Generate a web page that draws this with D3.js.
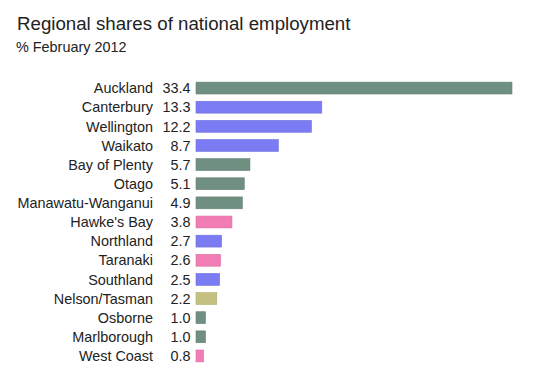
<!DOCTYPE html>
<html>
<head>
<meta charset="utf-8">
<script src="https://cdn.jsdelivr.net/npm/d3@7"></script>
<style>
  body { margin: 0; background: #fff; }
  text { font-family: "Liberation Sans", Arial, sans-serif; fill: #222; }
</style>
</head>
<body>
<div id="chart"></div>
<script>
// data
var regions = ["Auckland", "Canterbury", "Wellington", "Waikato", "Bay of Plenty", "Otago",
  "Manawatu-Wanganui", "Hawke's Bay", "Northland", "Taranaki", "Southland", "Nelson/Tasman",
  "Osborne", "Marlborough", "West Coast"];
var shares = [33.4, 13.3, 12.2, 8.7, 5.7, 5.1, 4.9, 3.8, 2.7, 2.6, 2.5, 2.2, 1.0, 1.0, 0.8];
var groups = ["a", "b", "b", "b", "a", "a", "a", "c", "b", "c", "b", "d", "a", "a", "c"];

var width = 540, height = 392;
var svg = d3.select("#chart").append("svg")
  .attr("width", width)
  .attr("height", height);

svg.append("text")
  .attr("x", 17).attr("y", 30)
  .style("font-size", "18.7px")
  .text("Regional shares of national employment");

svg.append("text")
  .attr("x", 16).attr("y", 52)
  .style("font-size", "14.4px")
  .text("% February 2012");

var x = d3.scaleLinear().domain([0, 33.4]).range([196, 512]);
var y = d3.scaleBand().domain(regions).range([78.5, 365.5]).paddingInner(0.38).paddingOuter(0.19);

var color = d3.scaleOrdinal()
  .domain(["a", "b", "c", "d"])
  .range(["#6f9080", "#7b7bf4", "#f27db5", "#c4c080"]);

var rows = svg.selectAll("g.row")
  .data(regions.map(function (r, i) { return { region: r, value: shares[i], group: groups[i] }; }))
  .enter().append("g")
  .attr("class", "row");

rows.append("rect")
  .attr("x", x(0))
  .attr("y", function (d) { return y(d.region); })
  .attr("width", function (d) { return x(d.value) - x(0); })
  .attr("height", y.bandwidth())
  .attr("fill", function (d) { return color(d.group); })
  .attr("stroke", function (d) { return d3.color(color(d.group)).darker(0.3); })
  .attr("stroke-width", 0.6);

rows.append("text")
  .attr("x", 153)
  .attr("y", function (d) { return y(d.region) + y.bandwidth() / 2; })
  .attr("dy", "0.36em")
  .attr("text-anchor", "end")
  .style("font-size", "14.4px")
  .text(function (d) { return d.region; });

rows.append("text")
  .attr("x", 190.5)
  .attr("y", function (d) { return y(d.region) + y.bandwidth() / 2; })
  .attr("dy", "0.36em")
  .attr("text-anchor", "end")
  .style("font-size", "14.4px")
  .text(function (d) { return d.value.toFixed(1); });
</script>
</body>
</html>
